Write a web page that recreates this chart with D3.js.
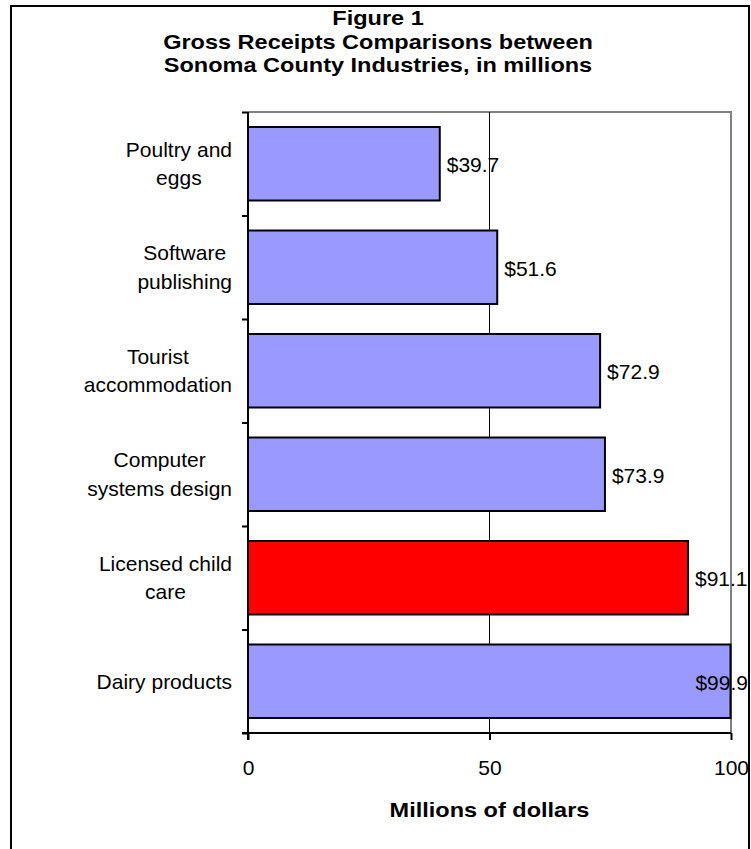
<!DOCTYPE html>
<html>
<head>
<meta charset="utf-8">
<script src="https://cdn.jsdelivr.net/npm/d3@7"></script>
<style>
  html, body { margin: 0; padding: 0; background: #fff; }
  svg { display: block; font-family: "Liberation Sans", Arial, sans-serif; }
</style>
</head>
<body>
<svg id="chart" width="751" height="849"></svg>
<script>
// Industry categories, top to bottom, with gross receipts in millions of dollars
const categories = [
  ["Poultry and", "eggs"],
  ["Software", "publishing"],
  ["Tourist", "accommodation"],
  ["Computer", "systems design"],
  ["Licensed child", "care"],
  ["Dairy products"]
];
const receipts = [39.7, 51.6, 72.9, 73.9, 91.1, 99.9];
const highlighted = [false, false, false, false, true, false];
const xTicks = [0, 50, 100];
const titleLines = ["Figure 1", "Gross Receipts Comparisons between", "Sonoma County Industries, in millions"];
const xAxisTitle = "Millions of dollars";

const svg = d3.select("#chart");
const W = 751, H = 849;
const boldStretch = 1.12; // headings are set slightly wide

// Outer chart frame (bottom edge runs off the page)
svg.append("rect")
  .attr("x", 11).attr("y", 6)
  .attr("width", 738).attr("height", H)
  .attr("fill", "#fff").attr("stroke", "#000").attr("stroke-width", 2);

const plot = { left: 248, right: 731, top: 112, bottom: 733 };
const keys = categories.map(c => c.join(" "));

const x = d3.scaleLinear().domain([0, 100]).range([plot.left, plot.right]);
const y = d3.scaleBand().domain(keys).range([plot.top, plot.bottom]).paddingInner(0.29).paddingOuter(0.145);
const yEdges = d3.scaleLinear().domain([0, keys.length]).range([plot.top, plot.bottom]);

// Title
const title = svg.append("text")
  .attr("transform", `translate(378,0) scale(${boldStretch},1)`)
  .attr("text-anchor", "middle")
  .attr("font-weight", "bold")
  .attr("font-size", 21)
  .attr("fill", "#000");
titleLines.forEach((t, i) => {
  title.append("tspan").attr("x", 0).attr("y", 25.5 + i * 23.5).text(t);
});

// Plot area frame (top and right, grey)
svg.append("path")
  .attr("d", `M${plot.left},${plot.top}H${plot.right}V${plot.bottom}`)
  .attr("fill", "none").attr("stroke", "#808080").attr("stroke-width", 2);

// Vertical gridline at 50
svg.append("g")
  .selectAll("line")
  .data(xTicks.filter(v => v > 0 && v < 100))
  .join("line")
  .attr("x1", d => x(d)).attr("x2", d => x(d))
  .attr("y1", plot.top).attr("y2", plot.bottom)
  .attr("stroke", "#000").attr("stroke-width", 1);

// Bars
svg.append("g")
  .selectAll("rect")
  .data(receipts)
  .join("rect")
  .attr("x", x(0))
  .attr("y", (d, i) => y(keys[i]))
  .attr("width", d => x(d) - x(0))
  .attr("height", y.bandwidth())
  .attr("fill", (d, i) => highlighted[i] ? "#FF0000" : "#9999FF")
  .attr("stroke", "#000")
  .attr("stroke-width", 2);

// Value labels, kept inside the chart frame
const labels = svg.append("g")
  .attr("font-size", 21)
  .attr("fill", "#000")
  .selectAll("text")
  .data(receipts)
  .join("text")
  .attr("y", (d, i) => y(keys[i]) + y.bandwidth() / 2 + 8.5)
  .text(d => "$" + d.toFixed(1));
labels.attr("x", function (d) {
  const w = this.getComputedTextLength();
  return Math.min(x(d) + 7, 748 - w);
});

// X axis
const xAxis = svg.append("g")
  .attr("transform", `translate(0,${plot.bottom})`)
  .call(d3.axisBottom(x).tickValues(xTicks).tickSize(7).tickPadding(20).tickFormat(d3.format("d")));
xAxis.select(".domain").attr("stroke", "#000").attr("stroke-width", 2)
  .attr("d", `M${plot.left - 6},0H${plot.right}`);
xAxis.selectAll(".tick line").attr("stroke", "#000").attr("stroke-width", 2);
xAxis.selectAll(".tick text")
  .attr("font-family", "Liberation Sans, Arial, sans-serif")
  .attr("font-size", 21).attr("fill", "#000");

// Y axis with ticks on category boundaries
const yAxis = svg.append("g")
  .attr("transform", `translate(${plot.left},0)`)
  .call(d3.axisLeft(yEdges).tickValues(d3.range(0, keys.length + 1)).tickSize(6).tickFormat(""));
yAxis.select(".domain").attr("stroke", "#000").attr("stroke-width", 2)
  .attr("d", `M0,${plot.top}V${plot.bottom + 7}`);
yAxis.selectAll(".tick line").attr("stroke", "#000").attr("stroke-width", 2);

// Category labels: each block right-aligned, lines centred within it
const lineGap = 28.5;
const catG = svg.append("g").attr("font-size", 21).attr("fill", "#000").attr("text-anchor", "middle");
categories.forEach((lines, i) => {
  const c = y(keys[i]) + y.bandwidth() / 2;
  const t = catG.append("text");
  const b1 = lines.length === 1 ? c + 7.5 : c - 7 - (lines.length - 2) * lineGap / 2;
  const spans = lines.map((ln, j) => t.append("tspan").attr("y", b1 + j * lineGap).text(ln));
  const maxW = d3.max(spans, s => s.node().getComputedTextLength());
  spans.forEach(s => s.attr("x", 232 - maxW / 2));
});

// X axis title
svg.append("text")
  .attr("transform", `translate(${(plot.left + plot.right) / 2},817) scale(${boldStretch},1)`)
  .attr("text-anchor", "middle")
  .attr("font-weight", "bold")
  .attr("font-size", 21)
  .attr("fill", "#000")
  .text(xAxisTitle);
</script>
</body>
</html>
